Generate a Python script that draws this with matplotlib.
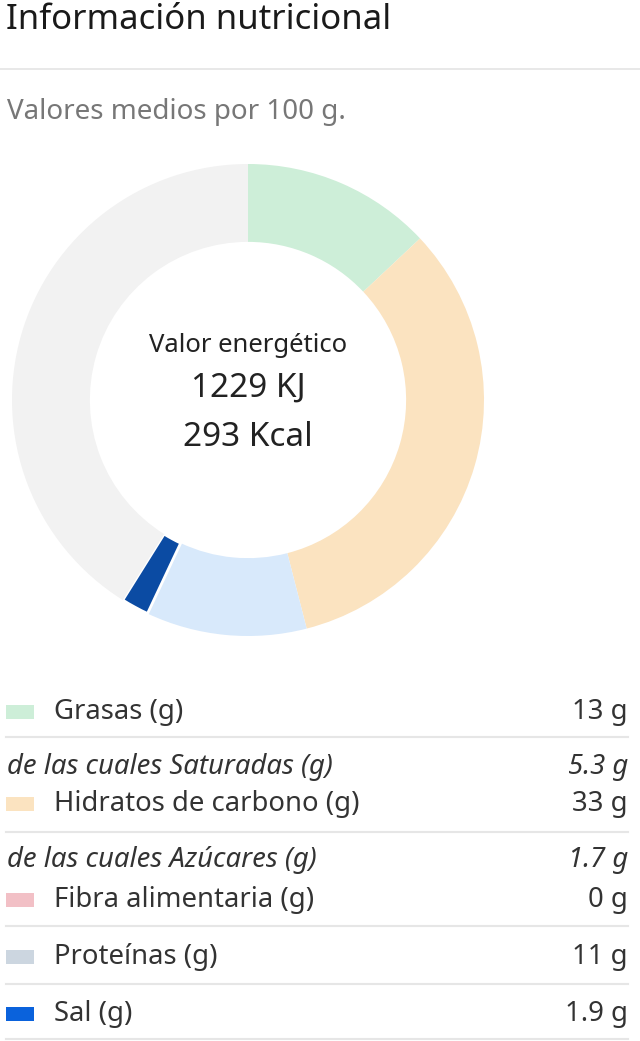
import matplotlib
matplotlib.use("Agg")
import matplotlib.pyplot as plt
from matplotlib.patches import Rectangle

plt.rcParams["font.family"] = ["Noto Sans", "DejaVu Sans"]

# nutrient values per 100 g
nutrients = ["Grasas (g)", "Hidratos de carbono (g)", "Fibra alimentaria (g)", "Proteínas (g)", "Sal (g)"]
grams = [13, 33, 0, 11, 1.9]
donut_colors = ["#cdeed8", "#fbe3c0", "#f4c6cc", "#d8e9fb", "#0b4ba3"]
legend_colors = ["#cdeed8", "#fbe3c0", "#f2c0c6", "#ccd6e0", "#0a62dc"]
value_labels = ["13 g", "33 g", "0 g", "11 g", "1.9 g"]
sub_labels = {0: ("de las cuales Saturadas (g)", "5.3 g"), 1: ("de las cuales Azúcares (g)", "1.7 g")}
energy_kj = 1229
energy_kcal = 293

W, H = 640, 1041
fig = plt.figure(figsize=(W / 100, H / 100), dpi=100)

# page axes in pixel coordinates
page = fig.add_axes([0, 0, 1, 1])
page.set_xlim(0, W)
page.set_ylim(H, 0)
page.axis("off")

page.text(6, 20, "Información nutricional", fontsize=25, color="#1a1a1a", va="center")
page.plot([0, W], [69, 69], color="#e4e4e4", lw=1.2)
page.text(7, 112, "Valores medios por 100 g.", fontsize=20, color="#777777", va="center")

# donut
cx, cy, r = 248, 400, 236
ax = fig.add_axes([(cx - r) / W, 1 - (cy + r) / H, 2 * r / W, 2 * r / H])
rest = 100 - sum(grams)
wedges, _ = ax.pie(grams + [rest], colors=donut_colors + ["#f2f2f2"], startangle=90,
                   counterclock=False, radius=1.0,
                   wedgeprops=dict(width=0.33, linewidth=0))
wedges[4].set_edgecolor("white")
wedges[4].set_linewidth(2)
ax.set_xlim(-1, 1)
ax.set_ylim(-1, 1)
ax.set_aspect("equal")
ax.axis("off")

page.text(cx, 345, "Valor energético", fontsize=18.5, color="#222222", ha="center", va="center")
page.text(cx, 388, f"{energy_kj} KJ", fontsize=24, color="#222222", ha="center", va="center")
page.text(cx, 437, f"{energy_kcal} Kcal", fontsize=24, color="#222222", ha="center", va="center")

# legend table
row_y = [712, 804, 900, 957, 1014]
sep_y = [737, 832, 926, 984, 1039]
sub_y = {0: 767, 1: 860}
for i, name in enumerate(nutrients):
    y = row_y[i]
    page.add_patch(Rectangle((6, y - 7), 28, 14, color=legend_colors[i], lw=0))
    page.text(54, y, name, fontsize=19.8, color="#333333", va="center")
    page.text(628, y, value_labels[i], fontsize=19.8, color="#333333", va="center", ha="right")
    if i in sub_labels:
        lab, val = sub_labels[i]
        page.text(7, sub_y[i], lab, fontsize=19.8, style="italic", color="#333333", va="center")
        page.text(628, sub_y[i], val, fontsize=19.8, style="italic", color="#333333", va="center", ha="right")
    page.plot([6, 628], [sep_y[i], sep_y[i]], color="#e6e6e6", lw=1.5)

fig.savefig("out.png", dpi=100)
